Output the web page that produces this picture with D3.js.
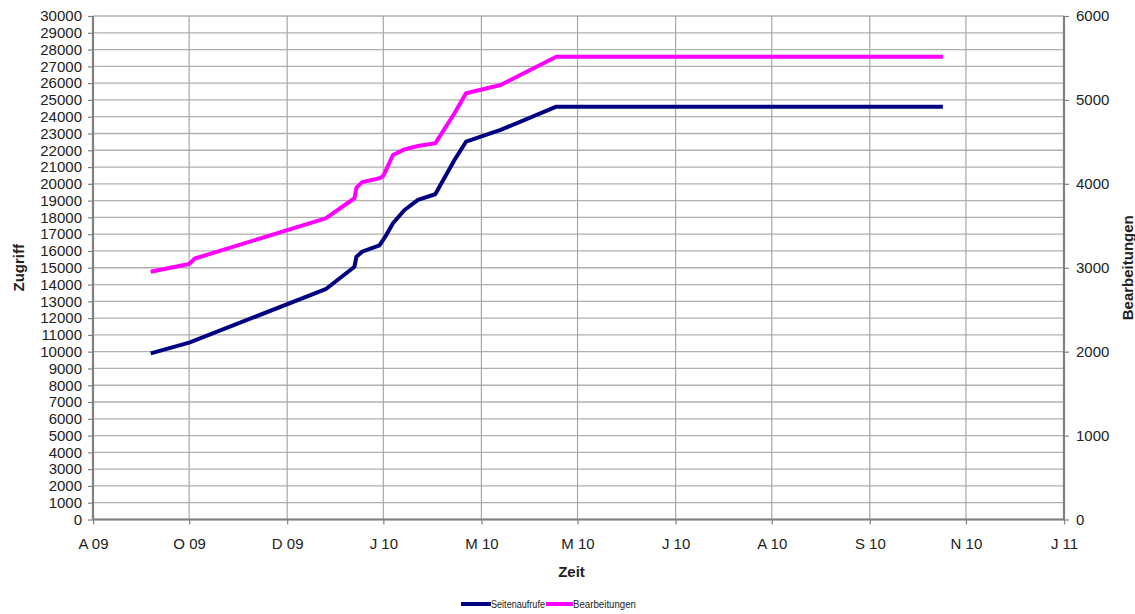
<!DOCTYPE html>
<html>
<head>
<meta charset="utf-8">
<script src="https://cdn.jsdelivr.net/npm/d3@7"></script>
<style>
  html, body { margin: 0; padding: 0; background: #fff; }
  svg { display: block; font-family: "Liberation Sans", Arial, sans-serif; }
</style>
</head>
<body>
<svg id="chart" width="1135" height="614"></svg>
<script>
// ---- data ----
const dates = ["2009-09-21","2009-10-11","2009-12-21","2010-01-05","2010-01-06","2010-01-09",
               "2010-01-18","2010-01-21","2010-01-25","2010-01-31","2010-02-07","2010-02-16",
               "2010-02-26","2010-03-04","2010-03-22","2010-04-20","2010-11-07"];
const seitenaufrufe = [9900,10540,13720,15060,15660,15960,16330,16850,17650,18440,19040,19380,
                       21420,22510,23210,24600,24600];
const datesB = ["2009-09-21","2009-10-11","2009-10-14","2009-12-21","2010-01-05","2010-01-06","2010-01-09",
                "2010-01-18","2010-01-20","2010-01-25","2010-01-31","2010-02-07","2010-02-16",
                "2010-02-26","2010-03-04","2010-03-22","2010-04-20","2010-11-07"];
const bearbeitungen = [2953,3045,3110,3589,3828,3955,4020,4066,4095,4344,4410,4451,4483,
                       4840,5079,5178,5515,5515];
const xTickDates = ["2009-08-22","2009-10-11","2009-12-01","2010-01-20","2010-03-12","2010-05-01",
                    "2010-06-21","2010-08-10","2010-09-30","2010-11-19","2011-01-09"];
const xTickLabels = ["A 09","O 09","D 09","J 10","M 10","M 10","J 10","A 10","S 10","N 10","J 11"];
const leftTicks = [0,1000,2000,3000,4000,5000,6000,7000,8000,9000,10000,11000,12000,13000,14000,15000,
                   16000,17000,18000,19000,20000,21000,22000,23000,24000,25000,26000,27000,28000,29000,30000];
const rightTicks = [0,1000,2000,3000,4000,5000,6000];
const seriesNames = ["Seitenaufrufe","Bearbeitungen"];
const seriesColors = ["#000080","#ff00ff"];

// ---- layout ----
const parse = d3.timeParse("%Y-%m-%d");
const L = 93, R = 1064, T = 16, B = 519.5;
const svg = d3.select("#chart");

const tickDates = xTickDates.map(parse);
const x = d3.scaleTime().domain([tickDates[0], tickDates[tickDates.length-1]]).range([L, R]);
const yL = d3.scaleLinear().domain([0, 30000]).range([B, T]);
const yR = d3.scaleLinear().domain([0, 6000]).range([B, T]);

// horizontal grid
svg.append("g").selectAll("line").data(leftTicks).join("line")
  .attr("x1", L).attr("x2", R)
  .attr("y1", d => yL(d)).attr("y2", d => yL(d))
  .attr("stroke", "#b0b0b0").attr("stroke-width", 1.3);
// vertical grid
svg.append("g").selectAll("line").data(tickDates).join("line")
  .attr("x1", d => x(d)).attr("x2", d => x(d))
  .attr("y1", T).attr("y2", B)
  .attr("stroke", "#a8a8a8").attr("stroke-width", 1.2);

// axes
const axL = svg.append("g").attr("transform", `translate(${L},0)`)
  .call(d3.axisLeft(yL).tickValues(leftTicks).tickSize(5).tickPadding(6).tickFormat(d3.format("d")));
const axR = svg.append("g").attr("transform", `translate(${R},0)`)
  .call(d3.axisRight(yR).tickValues(rightTicks).tickSize(5).tickPadding(7).tickFormat(d3.format("d")));
const axB = svg.append("g").attr("transform", `translate(0,${B})`)
  .call(d3.axisBottom(x).tickValues(tickDates).tickSize(5).tickPadding(14)
        .tickFormat((d, i) => xTickLabels[i]));
[axL, axR, axB].forEach(a => {
  a.select(".domain").attr("stroke", "#808080").attr("stroke-width", 2.2);
  a.selectAll(".tick line").attr("stroke", "#808080").attr("stroke-width", 1.2);
  a.selectAll(".tick text").attr("fill", "#222").attr("font-size", 15)
   .attr("font-family", "'Liberation Sans', Arial, sans-serif");
});
axL.select(".domain").attr("d", `M0,${T}V${B}`);
axR.select(".domain").attr("d", `M0,${T}V${B}`);
axB.select(".domain").attr("d", `M${L},0H${R}`);

// lines
const lineL = d3.line().x(d => x(d[0])).y(d => yL(d[1]));
const lineR = d3.line().x(d => x(d[0])).y(d => yR(d[1]));
svg.append("path")
  .datum(dates.map((d, i) => [parse(d), seitenaufrufe[i]]))
  .attr("d", lineL).attr("fill", "none").attr("stroke", seriesColors[0])
  .attr("stroke-width", 4).attr("stroke-linejoin", "round");
svg.append("path")
  .datum(datesB.map((d, i) => [parse(d), bearbeitungen[i]]))
  .attr("d", lineR).attr("fill", "none").attr("stroke", seriesColors[1])
  .attr("stroke-width", 4).attr("stroke-linejoin", "round");

// axis titles
svg.append("text").attr("transform", `translate(24,${(T+B)/2}) rotate(-90)`)
  .attr("text-anchor", "middle").attr("font-weight", "bold").attr("font-size", 15)
  .attr("fill", "#222").text("Zugriff");
svg.append("text").attr("transform", `translate(1133,${(T+B)/2}) rotate(-90)`)
  .attr("text-anchor", "middle").attr("font-weight", "bold").attr("font-size", 15)
  .attr("fill", "#222").text("Bearbeitungen");
svg.append("text").attr("x", (L+R)/2 - 7).attr("y", 577)
  .attr("text-anchor", "middle").attr("font-weight", "bold").attr("font-size", 15)
  .attr("fill", "#222").text("Zeit");

// legend
const lg = svg.append("g").attr("transform", "translate(461,604)");
const legendX = [0, 85];
const legendLen = [30, 27];
seriesNames.forEach((name, i) => {
  const g = lg.append("g").attr("transform", `translate(${legendX[i]},0)`);
  g.append("line").attr("x1", 0).attr("x2", legendLen[i]).attr("y1", 0).attr("y2", 0)
    .attr("stroke", seriesColors[i]).attr("stroke-width", 4);
  g.append("text").attr("x", legendLen[i]).attr("y", 4).attr("font-size", 10)
    .attr("textLength", i === 0 ? 54 : 63).attr("lengthAdjust", "spacingAndGlyphs")
    .attr("fill", "#222").text(name);
});
</script>
</body>
</html>
